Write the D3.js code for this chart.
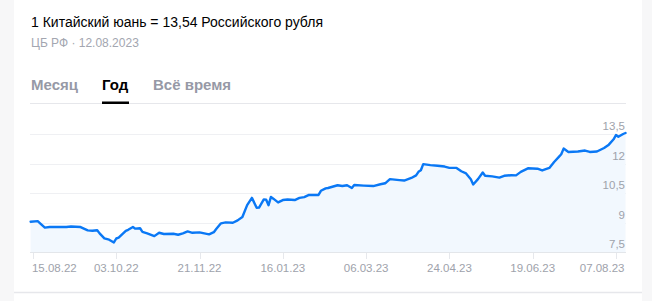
<!DOCTYPE html>
<html>
<head>
<meta charset="utf-8">
<script src="https://cdn.jsdelivr.net/npm/d3@7"></script>
<style>
  html, body { margin: 0; padding: 0; background: #fff; }
  svg { display: block; font-family: "Liberation Sans", Arial, sans-serif; }
</style>
</head>
<body>
<div id="chart"></div>
<script>
// trading day number (0 = 12.08.22) and CNY/RUB rate
var days = [0, 3, 4, 6, 8, 15, 17, 21, 24, 26, 28, 29, 31, 33, 35, 36, 37, 40, 41, 43,
  44, 46, 47, 49, 52, 54, 56, 60, 62, 64, 66, 68, 71, 75, 77, 78, 80, 82, 85, 87,
  89, 91, 93, 95, 96, 98, 99, 100, 101, 102, 104, 106, 108, 111, 113, 115, 117, 121, 122, 124,
  125, 129, 131, 133, 135, 136, 140, 144, 147, 149, 151, 155, 157, 160, 162, 163, 164, 165, 168, 171,
  174, 176, 179, 181, 183, 185, 186, 188, 190, 191, 194, 197, 199, 202, 204, 206, 209, 213, 215, 218,
  220, 222, 223, 224, 226, 230, 233, 235, 238, 241, 243, 245, 246, 247, 249, 250];
var rates = [9.05, 9.08, 8.97, 8.75, 8.78, 8.78, 8.81, 8.78, 8.61, 8.59, 8.62, 8.46, 8.21, 8.14, 8.0, 8.2, 8.24, 8.59, 8.64, 8.78,
  8.7, 8.72, 8.54, 8.46, 8.32, 8.49, 8.43, 8.44, 8.39, 8.46, 8.56, 8.49, 8.51, 8.41, 8.52, 8.68, 8.97, 9.02, 9.0, 9.12,
  9.29, 9.89, 10.26, 9.76, 9.77, 10.18, 10.17, 9.89, 10.31, 10.22, 10.03, 10.15, 10.18, 10.15, 10.26, 10.3, 10.41, 10.41, 10.62, 10.74,
  10.76, 10.9, 10.86, 10.9, 10.76, 10.91, 10.88, 10.86, 10.95, 11.0, 11.21, 11.16, 11.14, 11.27, 11.4, 11.58, 11.66, 11.97, 11.92, 11.89,
  11.85, 11.78, 11.78, 11.61, 11.5, 11.21, 10.94, 11.21, 11.55, 11.38, 11.35, 11.29, 11.38, 11.41, 11.4, 11.58, 11.76, 11.74, 11.65, 11.78,
  12.08, 12.34, 12.47, 12.76, 12.59, 12.61, 12.66, 12.59, 12.61, 12.79, 12.96, 13.23, 13.45, 13.36, 13.5, 13.55];

var tickLabels = ["15.08.22", "03.10.22", "21.11.22", "16.01.23", "06.03.23", "24.04.23", "19.06.23", "07.08.23"];
var tickDays = [1, 36, 71, 106, 141, 176, 211, 246];
var yTicks = [7.5, 9, 10.5, 12, 13.5];
var tabs = ["Месяц", "Год", "Всё время"];

var width = 652, height = 301;
var plotLeft = 30, plotRight = 626, plotTop = 134, plotBottom = 252.3;

var svg = d3.select("#chart").append("svg").attr("width", width).attr("height", height);

// side strips
svg.append("rect").attr("x", 0).attr("y", 0).attr("width", 14).attr("height", height).attr("fill", "#f7f7f8");
svg.append("rect").attr("x", 642).attr("y", 0).attr("width", 10).attr("height", height).attr("fill", "#f7f7f8");
svg.append("line").attr("x1", 14).attr("x2", 642).attr("y1", 292.5).attr("y2", 292.5)
  .attr("stroke", "#e6e7eb").attr("stroke-width", 1.5);

// header
svg.append("text").attr("x", 31).attr("y", 26.5).attr("font-size", 14).attr("fill", "#000")
  .text("1 Китайский юань = 13,54 Российского рубля");
svg.append("text").attr("x", 31).attr("y", 47).attr("font-size", 12).attr("fill", "#a3a6b0")
  .text("ЦБ РФ · 12.08.2023");

var tabX = [31, 102, 153];
svg.selectAll(".tab").data(tabs).enter().append("text")
  .attr("class", "tab")
  .attr("x", function(d, i) { return tabX[i]; })
  .attr("y", 89.5)
  .attr("font-size", 15).attr("font-weight", "bold")
  .attr("fill", function(d) { return d == "Год" ? "#000" : "#9699a6"; })
  .text(function(d) { return d; });
svg.append("line").attr("x1", plotLeft).attr("x2", plotRight).attr("y1", 103.5).attr("y2", 103.5)
  .attr("stroke", "#e6e7eb").attr("stroke-width", 1);
svg.append("rect").attr("x", 102).attr("y", 101.5).attr("width", 27).attr("height", 2.5).attr("fill", "#000");

// scales
var x = d3.scaleLinear().domain([0, 250]).range([30.6, 625.5]);
var y = d3.scaleLinear().domain([7.5, 13.5]).range([plotBottom, plotTop]);

// grid
svg.selectAll(".grid").data(yTicks.slice(1)).enter().append("line")
  .attr("x1", plotLeft).attr("x2", plotRight)
  .attr("y1", function(d) { return Math.round(y(d)) + 0.5; })
  .attr("y2", function(d) { return Math.round(y(d)) + 0.5; })
  .attr("stroke", "#eff0f3");

var pts = days.map(function(d, i) { return [d, rates[i]]; });

var area = d3.area()
  .x(function(d) { return x(d[0]); })
  .y0(plotBottom)
  .y1(function(d) { return y(d[1]); });
svg.append("path").datum(pts).attr("d", area).attr("fill", "#f2f8fe");

svg.append("line").attr("x1", plotLeft).attr("x2", plotRight).attr("y1", 252.5).attr("y2", 252.5)
  .attr("stroke", "#e3e6ea");

var line = d3.line()
  .x(function(d) { return x(d[0]); })
  .y(function(d) { return y(d[1]); });
svg.append("path").datum(pts).attr("d", line)
  .attr("fill", "none").attr("stroke", "#0a78f5").attr("stroke-width", 2.4)
  .attr("stroke-linejoin", "round").attr("stroke-linecap", "round");

// y labels
svg.selectAll(".ylab").data(yTicks).enter().append("text")
  .attr("x", 625).attr("y", function(d) { return y(d) - 4; })
  .attr("text-anchor", "end").attr("font-size", 11.5).attr("fill", "#9ea2ab")
  .text(function(d) { return String(d).replace(".", ","); });

// x axis ticks
svg.selectAll(".xtick").data(tickDays).enter().append("line")
  .attr("x1", function(d) { return Math.round(x(d)) + 0.5; })
  .attr("x2", function(d) { return Math.round(x(d)) + 0.5; })
  .attr("y1", 253).attr("y2", 259)
  .attr("stroke", "#e6e8ec");
svg.selectAll(".xlab").data(tickLabels).enter().append("text")
  .attr("x", function(d, i) {
    if (i == 0) return x(tickDays[i]) - 1;
    if (i == tickLabels.length - 1) return 624.5;
    return x(tickDays[i]);
  })
  .attr("y", 272)
  .attr("text-anchor", function(d, i) { return i == 0 ? "start" : (i == tickLabels.length - 1 ? "end" : "middle"); })
  .attr("font-size", 11.5).attr("fill", "#9ea2ab")
  .text(function(d) { return d; });
</script>
</body>
</html>
